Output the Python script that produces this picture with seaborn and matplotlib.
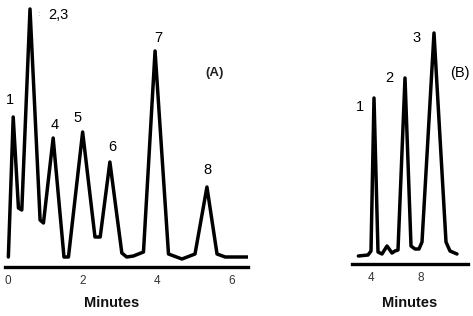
import numpy as np
import pandas as pd
import seaborn as sns
import matplotlib.pyplot as plt

# --- data (minutes, detector response) ---
time_a = [0.01, 0.14, 0.28, 0.37, 0.59, 0.86, 0.95, 1.21, 1.50, 1.62, 2.00,
          2.33, 2.47, 2.73, 3.05, 3.18, 3.36, 3.63, 3.94, 4.30, 4.66, 5.01,
          5.33, 5.60, 5.82, 6.42]
resp_a = [0, 140, 49, 47, 248, 37, 34, 119, 0, 0, 125,
          20, 20, 95, 4, 0, 1, 5, 206, 3, -2, 3,
          70, 3, 0, 0]

time_b = [3.01, 3.78, 4.02, 4.26, 4.58, 4.90, 5.30, 5.70, 5.94, 6.18, 6.74,
          7.22, 7.54, 7.86, 8.10, 9.06, 10.02, 10.34, 10.90]
resp_b = [0, 1, 5, 158, 4, 2, 10, 3, 5, 6, 178,
          10, 7, 7, 14, 223, 14, 5, 2]

ticks_a = [0, 2, 4, 6]
tick_labels_a = ["0", "2", "4", "6"]
ticks_b = [4, 6, 8, 10]
tick_labels_b = ["4", "", "8", ""]

peak_labels_a = ["1", "2,3", "4", "5", "6", "7", "8"]
peak_labels_b = ["1", "2", "3"]

sns.set_style("white")
plt.rcParams['font.family'] = ['Liberation Sans', 'DejaVu Sans']

W, H = 473, 316
fig = plt.figure(figsize=(W / 100, H / 100), dpi=100)


def box(x0, y_top, x1, y_bot):
    # pixel box (top-left origin) -> figure fraction rect
    return [x0 / W, 1 - y_bot / H, (x1 - x0) / W, (y_bot - y_top) / H]


def txt(x, y, s, **kw):
    fig.text(x / W, 1 - y / H, s, ha='center', va='center', **kw)


ax_a = fig.add_axes(box(5, 5, 248, 267))
ax_b = fig.add_axes(box(352, 5, 468, 264))

sns.lineplot(x=time_a, y=resp_a, ax=ax_a, color='black', lw=2.5,
             estimator=None, sort=False)
sns.lineplot(x=time_b, y=resp_b, ax=ax_b, color='black', lw=2.5,
             estimator=None, sort=False)

ax_a.set_xlim(-0.08, 6.43)
ax_a.set_ylim(-10, 252)
ax_b.set_xlim(2.5, 11.78)
ax_b.set_ylim(-8, 251)

for ax, ticks, labels in [(ax_a, ticks_a, tick_labels_a), (ax_b, ticks_b, tick_labels_b)]:
    for side in ['top', 'right', 'left']:
        ax.spines[side].set_visible(False)
    ax.spines['bottom'].set_linewidth(2.4)
    ax.spines['bottom'].set_color('black')
    ax.set_yticks([])
    ax.set_xticks(ticks)
    ax.set_xticklabels(labels)
    ax.tick_params(axis='x', direction='inout', length=6, width=1.3, pad=3,
                   labelsize=8.5, colors='black')
    ax.tick_params(axis='x', labelcolor='#333333')
    ax.set_xlabel('')
    ax.set_ylabel('')
    ax.patch.set_alpha(0)

# peak labels, panel A
pos_a = [(10, 100), (58, 15), (55, 125), (78, 118), (112, 147), (158, 38), (207, 170)]
for (x, y), s in zip(pos_a, peak_labels_a):
    txt(x, y, s, fontsize=10.5, color='black')
txt(38, 15, ':', fontsize=6, color='#999999')
txt(215, 73, '(A)', fontsize=9.5, fontweight='bold', color='#222222')

# peak labels, panel B
pos_b = [(360, 107), (389, 78), (417, 38)]
for (x, y), s in zip(pos_b, peak_labels_b):
    txt(x, y, s, fontsize=10.5, color='black')
txt(460, 73, '(B)', fontsize=10.5, color='black')

txt(112, 303, 'Minutes', fontsize=10.5, fontweight='bold', color='#111111')
txt(410, 303, 'Minutes', fontsize=10.5, fontweight='bold', color='#111111')

fig.savefig('out.png', dpi=100)
